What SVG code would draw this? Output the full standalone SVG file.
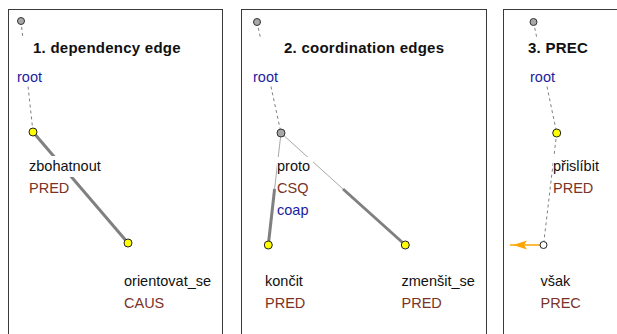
<svg xmlns="http://www.w3.org/2000/svg" width="617" height="334" viewBox="0 0 617 334">
<style>
.panel{fill:#fff;stroke:#3a3a3a;stroke-width:1}
.t{font-family:"Liberation Sans",Arial,sans-serif;font-size:14.5px}
.title{font-family:"Liberation Sans",Arial,sans-serif;font-size:15px;font-weight:bold;fill:#111;letter-spacing:0.25px}
.blk{fill:#111}
.brn{fill:#7a3326}
.blu{fill:#1c1ca0}
.bg{fill:#fff}
.dash{stroke:#808080;stroke-width:1;stroke-dasharray:3 3;fill:none}
.thick{stroke:#808080;stroke-width:3;fill:none}
.thin{stroke:#a8a8a8;stroke-width:1;fill:none}
.groot{fill:#a8a8a8;stroke:#333;stroke-width:1}
.yel{fill:#ffff00;stroke:#222;stroke-width:1}
.wht{fill:#fff;stroke:#222;stroke-width:1}
.orange{stroke:#ffa500;stroke-width:1.5;fill:none}
.ahead{fill:#ffa500}
</style>
<rect width="617" height="334" fill="#fff"/>
<g id="panels">
<rect class="panel" x="8.5" y="9.5" width="214" height="340"/>
<rect class="panel" x="241.5" y="9.5" width="245" height="340"/>
<rect class="panel" x="503.5" y="9.5" width="130" height="340"/>
</g>
<g id="connectors">
<line class="dash" x1="21" y1="21" x2="33" y2="132"/>
<line class="thick" x1="33" y1="132" x2="128" y2="243"/>
<line class="dash" x1="257" y1="22" x2="281" y2="133"/>
<line class="thin" x1="281" y1="133" x2="274.6" y2="189"/>
<line class="thick" x1="274.6" y1="189" x2="268.3" y2="245"/>
<line class="thin" x1="281" y1="133" x2="343" y2="189"/>
<line class="thick" x1="343" y1="189" x2="405.3" y2="245"/>
<line class="dash" x1="533.5" y1="22" x2="556.7" y2="133"/>
<line class="dash" x1="556.7" y1="133" x2="543.5" y2="245"/>
<line class="orange" x1="540" y1="245" x2="510" y2="245"/>
<polygon class="ahead" points="513,245 527,240.5 524,245 527,249.5"/>
</g>
<g id="p1-root">
<rect class="bg" x="15" y="38" width="170" height="48"/>
<circle class="groot" cx="21" cy="21" r="3.5"/>
<text class="title" x="33" y="53">1. dependency edge</text>
<text class="t blu" x="17" y="82">root</text>
</g>
<g id="p1-zbohatnout">
<rect class="bg" x="28" y="156" width="74" height="21"/>
<circle class="yel" cx="33" cy="132" r="4"/>
<text class="t blk" x="29" y="171">zbohatnout</text>
<text class="t brn" x="29" y="193">PRED</text>
</g>
<g id="p1-orientovat">
<circle class="yel" cx="128" cy="243" r="4"/>
<text class="t blk" x="124" y="286">orientovat_se</text>
<text class="t brn" x="124" y="308">CAUS</text>
</g>
<g id="p2-root">
<rect class="bg" x="252" y="38" width="195" height="48"/>
<circle class="groot" cx="257" cy="22" r="3.5"/>
<text class="title" x="284" y="53">2. coordination edges</text>
<text class="t blu" x="253" y="82">root</text>
</g>
<g id="p2-proto">
<rect class="bg" x="277" y="157" width="36" height="19"/>
<circle class="groot" cx="281" cy="133" r="4"/>
<text class="t blk" x="277" y="171">proto</text>
<text class="t brn" x="277" y="193">CSQ</text>
<text class="t blu" x="277" y="215">coap</text>
</g>
<g id="p2-koncit">
<circle class="yel" cx="268.3" cy="245" r="4"/>
<text class="t blk" x="265" y="286">končit</text>
<text class="t brn" x="265" y="308">PRED</text>
</g>
<g id="p2-zmensit">
<circle class="yel" cx="405.3" cy="245" r="4"/>
<text class="t blk" x="401.5" y="286">zmenšit_se</text>
<text class="t brn" x="401.5" y="308">PRED</text>
</g>
<g id="p3-root">
<rect class="bg" x="526" y="38" width="70" height="48"/>
<circle class="groot" cx="533.5" cy="22" r="3.5"/>
<text class="title" x="528" y="53">3. PREC</text>
<text class="t blu" x="530" y="82">root</text>
</g>
<g id="p3-prislibit">
<rect class="bg" x="553" y="157" width="50" height="40"/>
<circle class="yel" cx="556.7" cy="133" r="4"/>
<text class="t blk" x="553" y="171">přislíbit</text>
<text class="t brn" x="553" y="193">PRED</text>
</g>
<g id="p3-vsak">
<circle class="wht" cx="543.5" cy="245" r="3.5"/>
<text class="t blk" x="540.5" y="286">však</text>
<text class="t brn" x="540.5" y="308">PREC</text>
</g>
</svg>
